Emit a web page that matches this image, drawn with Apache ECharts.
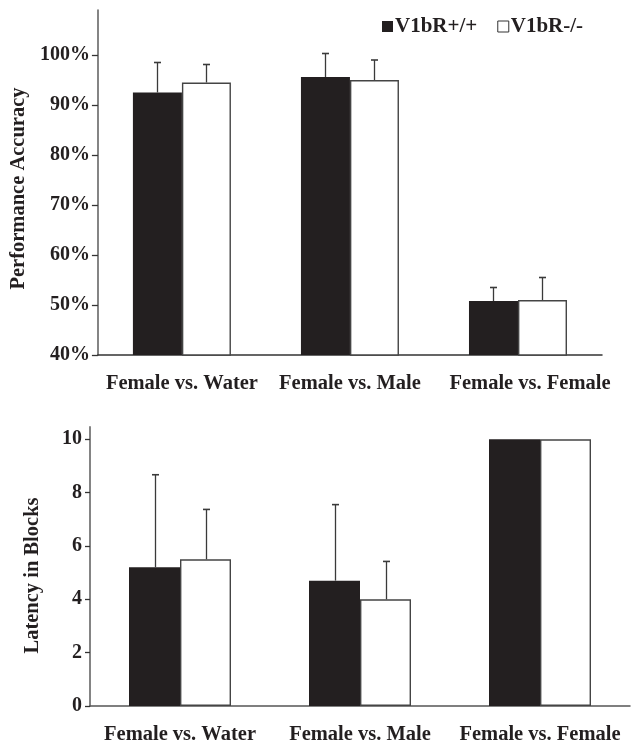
<!DOCTYPE html>
<html>
<head>
<meta charset="utf-8">
<script src="https://cdn.jsdelivr.net/npm/echarts@6/dist/echarts.min.js"></script>
<style>
  html, body { margin: 0; padding: 0; background: #fff; }
  #chart { width: 635px; height: 745px; }
</style>
</head>
<body>
<div id="chart"></div>
<script>
// Trial groups shared by both panels
const categories = ['Female vs. Water', 'Female vs. Male', 'Female vs. Female'];
const groupNames = ['V1bR+/+', 'V1bR-/-'];

// Panel A: performance accuracy (%), mean and SEM
const accuracyWT = [92.5, 95.6, 50.8];
const accuracyWTErr = [6.0, 4.7, 2.7];
const accuracyKO = [94.5, 95.0, 51.0];
const accuracyKOErr = [3.6, 4.0, 4.5];
const accuracyTicks = [40, 50, 60, 70, 80, 90, 100];

// Panel B: latency in blocks, mean and SEM
const latencyWT = [5.2, 4.7, 10];
const latencyWTErr = [3.47, 2.85, 0];
const latencyKO = [5.5, 4.0, 10];
const latencyKOErr = [1.87, 1.42, 0];
const latencyTicks = [0, 2, 4, 6, 8, 10];

const FONT = 'Liberation Serif';
const INK = '#231f20';
const BAR_W_TOP = 49;
const BAR_W_BOTTOM = 51;

// One-sided error bar (upward stem + cap) over the bar on the given side
function errorSeries(name, means, errs, gridIdx, side, barW) {
  return {
    type: 'custom',
    name: name,
    xAxisIndex: gridIdx,
    yAxisIndex: gridIdx,
    z: 5,
    silent: true,
    data: means.map((m, i) => [i, m, errs[i]]),
    renderItem: function (params, api) {
      const err = api.value(2);
      if (!err) return null;
      const base = api.coord([api.value(0), api.value(1)]);
      const top = api.coord([api.value(0), api.value(1) + err]);
      const x = Math.round(base[0] + side * barW / 2) + 0.5;
      return {
        type: 'group',
        children: [
          { type: 'line', shape: { x1: x, y1: base[1], x2: x, y2: top[1] }, style: { stroke: '#3a3a3a', lineWidth: 1.3 } },
          { type: 'line', shape: { x1: x - 3.5, y1: top[1], x2: x + 3.5, y2: top[1] }, style: { stroke: '#3a3a3a', lineWidth: 1.6 } }
        ]
      };
    }
  };
}

function barSeries(name, values, gridIdx, filled, barW) {
  return {
    type: 'bar',
    name: name,
    xAxisIndex: gridIdx,
    yAxisIndex: gridIdx,
    data: values,
    barWidth: barW,
    barGap: '0%',
    itemStyle: filled
      ? { color: INK, borderColor: INK, borderWidth: 0 }
      : { color: '#ffffff', borderColor: '#444', borderWidth: 1.4 }
  };
}

const catLabel = { color: INK, fontFamily: FONT, fontWeight: 'bold', fontSize: 20.5, margin: 18, interval: 0, hideOverlap: false };
const valLabelStyle = { color: INK, fontFamily: FONT, fontWeight: 'bold', fontSize: 20, margin: 8 };
const nameStyle = { color: INK, fontFamily: FONT, fontWeight: 'bold', fontSize: 20.5 };

// In the upper panel the last group label sits a little to the right
const topCategoryItems = categories.map((c, i) =>
  i === categories.length - 1 ? { value: c, textStyle: { padding: [0, 0, 0, 24] } } : c
);

const option = {
  backgroundColor: '#fff',
  animation: false,
  legend: {
    left: 377,
    top: 11,
    itemWidth: 11,
    itemHeight: 11,
    itemGap: 20,
    icon: 'rect',
    textStyle: { color: INK, fontFamily: FONT, fontWeight: 'bold', fontSize: 21, padding: [0, 0, 0, -3] },
    data: [
      { name: groupNames[0], itemStyle: { color: INK, borderColor: INK, borderWidth: 0 } },
      { name: groupNames[1], itemStyle: { color: '#fff', borderColor: '#333', borderWidth: 1 } }
    ]
  },
  grid: [
    { left: 95, right: 33, top: 10, height: 345 },
    { left: 90, right: 5, top: 427, height: 284 }
  ],
  xAxis: [
    {
      type: 'category', gridIndex: 0, data: topCategoryItems,
      axisLine: { lineStyle: { color: '#333', width: 1.5 } },
      axisTick: { show: false },
      axisLabel: catLabel
    },
    {
      type: 'category', gridIndex: 1, data: categories,
      axisLine: { lineStyle: { color: '#555', width: 1.5 } },
      axisTick: { show: false },
      axisLabel: catLabel
    }
  ],
  yAxis: [
    {
      type: 'value', gridIndex: 0, min: 40, max: 109, interval: 10,
      name: 'Performance Accuracy', nameLocation: 'middle', nameGap: 64,
      nameTextStyle: Object.assign({ padding: [0, 12, 0, 0] }, nameStyle),
      axisLine: { show: true, lineStyle: { color: '#666', width: 1.6 } },
      axisTick: { show: true, length: 6, customValues: accuracyTicks, lineStyle: { color: '#333', width: 1.3 } },
      axisLabel: Object.assign({ customValues: accuracyTicks, formatter: '{value}%' }, valLabelStyle),
      splitLine: { show: false }
    },
    {
      type: 'value', gridIndex: 1, min: 0, max: 10.46, interval: 2,
      name: 'Latency in Blocks', nameLocation: 'middle', nameGap: 47,
      nameTextStyle: Object.assign({ padding: [0, 18, 0, 0] }, nameStyle),
      axisLine: { show: true, lineStyle: { color: '#777', width: 1.8 } },
      axisTick: { show: true, length: 5, customValues: latencyTicks, lineStyle: { color: '#333', width: 1.3 } },
      axisLabel: Object.assign({ customValues: latencyTicks }, valLabelStyle),
      splitLine: { show: false }
    }
  ],
  series: [
    barSeries(groupNames[0], accuracyWT, 0, true, BAR_W_TOP),
    barSeries(groupNames[1], accuracyKO, 0, false, BAR_W_TOP),
    errorSeries('accErrWT', accuracyWT, accuracyWTErr, 0, -1, BAR_W_TOP),
    errorSeries('accErrKO', accuracyKO, accuracyKOErr, 0, 1, BAR_W_TOP),
    barSeries(groupNames[0], latencyWT, 1, true, BAR_W_BOTTOM),
    barSeries(groupNames[1], latencyKO, 1, false, BAR_W_BOTTOM),
    errorSeries('latErrWT', latencyWT, latencyWTErr, 1, -1, BAR_W_BOTTOM),
    errorSeries('latErrKO', latencyKO, latencyKOErr, 1, 1, BAR_W_BOTTOM)
  ]
};

const chart = echarts.init(document.getElementById('chart'), null, { renderer: 'canvas' });
chart.setOption(option);
</script>
</body>
</html>
